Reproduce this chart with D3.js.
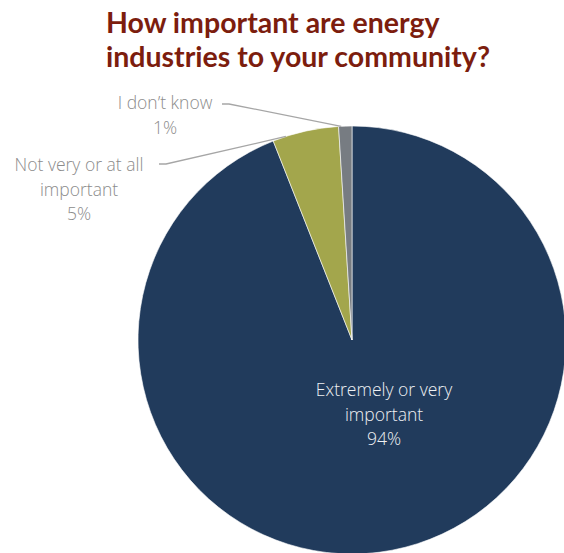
<!DOCTYPE html>
<html>
<head>
<meta charset="utf-8">
<script src="https://cdn.jsdelivr.net/npm/d3@7/dist/d3.min.js"></script>
<style>
  html, body { margin: 0; padding: 0; background: #ffffff; }
  svg { display: block; }
</style>
</head>
<body>
<script>
// Survey answers, clockwise from 12 o'clock
const categories = ["Extremely or very important", "Not very or at all important", "I don't know"];
const values = [94, 5, 1];
const colors = ["#213b5c", "#a3a64c", "#777c82"];
const titleLines = ["How important are energy", "industries to your community?"];

const width = 564, height = 553;
const cx = 352, cy = 340, radius = 214;

const svg = d3.select("body").append("svg")
  .attr("width", width)
  .attr("height", height);

// Title
svg.append("g").selectAll("text")
  .data(titleLines)
  .join("text")
  .attr("x", 106)
  .attr("y", (d, i) => 33 + i * 34)
  .attr("text-anchor", "start")
  .attr("font-family", "Lato, 'Open Sans', sans-serif")
  .attr("font-weight", 700)
  .attr("font-size", 28.5)
  .attr("fill", "#7c1d0e")
  .text(d => d);

const data = categories.map((c, i) => ({ category: c, value: values[i], color: colors[i] }));

const pie = d3.pie().value(d => d.value).sort(null);
const arc = d3.arc().innerRadius(0).outerRadius(radius);
const arcs = pie(data);

const g = svg.append("g").attr("transform", `translate(${cx},${cy})`);

g.selectAll("path")
  .data(arcs)
  .join("path")
  .attr("d", arc)
  .attr("fill", d => d.data.color)
  .attr("stroke", "#ffffff")
  .attr("stroke-width", 0.6);

// Label inside the main slice
const lblFont = "'Open Sans', Lato, sans-serif";
const lblSize = 17.5;
const inner = ["Extremely or very", "important", values[0] + "%"];
svg.append("g").selectAll("text")
  .data(inner)
  .join("text")
  .attr("x", 384)
  .attr("y", (d, i) => 396 + i * 24.5)
  .attr("text-anchor", "middle")
  .attr("font-family", lblFont)
  .attr("font-weight", 300)
  .attr("font-size", lblSize)
  .attr("fill", "#eef0f3")
  .text(d => d);

// Outside labels with leader lines to the small slices
const outside = [
  { idx: 2, lines: ["I don\u2019t know", values[2] + "%"], x: 165, y: 109, lx: 222, ly: 104 },
  { idx: 1, lines: ["Not very or at all", "important", values[1] + "%"], x: 79, y: 171, lx: 159, ly: 164 }
];

outside.forEach(o => {
  const a = arcs[o.idx];
  // point on the rim near the slice's leading edge
  const ang = a.startAngle + (a.endAngle - a.startAngle) * 0.2;
  const px = cx + Math.sin(ang) * radius, py = cy - Math.cos(ang) * radius;
  svg.append("path")
    .attr("d", `M${o.lx},${o.ly}L${o.lx + 7},${o.ly}L${px},${py}`)
    .attr("fill", "none")
    .attr("stroke", "#a6a6a6")
    .attr("stroke-width", 1.3);
  svg.append("g").selectAll("text")
    .data(o.lines)
    .join("text")
    .attr("x", o.x)
    .attr("y", (d, i) => o.y + i * 24.5)
    .attr("text-anchor", "middle")
    .attr("font-family", lblFont)
    .attr("font-weight", 300)
    .attr("font-size", lblSize)
    .attr("fill", "#8c8c8c")
    .text(d => d);
});
</script>
</body>
</html>
